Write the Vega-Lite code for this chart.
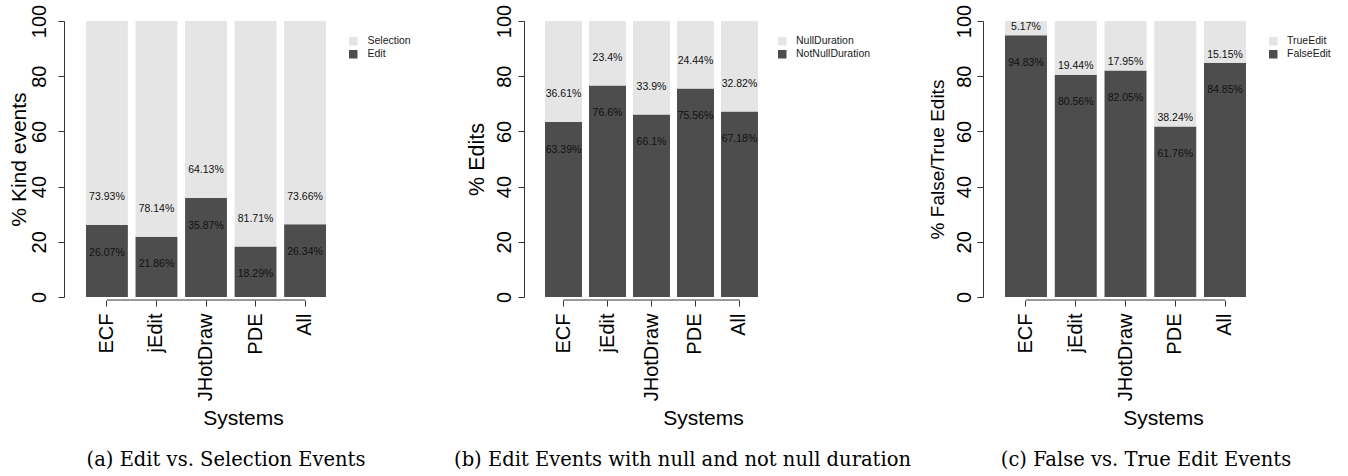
{
  "$schema": "https://vega.github.io/schema/vega-lite/v6.json",
  "background": "white",
  "padding": {"left": 8, "top": 4, "right": 5, "bottom": 0},
  "spacing": 10,
  "bounds": "flush",
  "resolve": {"scale": {"color": "independent"}, "legend": {"color": "independent"}},
  "hconcat": [
    {
      "width": 450,
      "height": 276,
      "data": {"values": [
        {"system": "ECF", "Edit": 26.07, "Selection": 73.93},
        {"system": "jEdit", "Edit": 21.86, "Selection": 78.14},
        {"system": "JHotDraw", "Edit": 35.87, "Selection": 64.13},
        {"system": "PDE", "Edit": 18.29, "Selection": 81.71},
        {"system": "All", "Edit": 26.34, "Selection": 73.66}
      ]},
      "title": {"text": "(a) Edit vs. Selection Events", "orient": "bottom", "anchor": "middle", "frame": "group", "dx": -63, "offset": 38, "baseline": "alphabetic"},
      "encoding": {
        "x": {"field": "system", "type": "nominal",
          "scale": {"domain": ["ECF", "jEdit", "JHotDraw", "PDE", "All"], "range": [22, 262], "paddingInner": 0.155, "paddingOuter": 0},
          "axis": {"title": "Systems", "offset": 3, "domain": false, "labelAngle": -90, "labelAlign": "right", "labelBaseline": "middle", "labelPadding": 7, "labelFontSize": 20, "titleFontSize": 21, "titleX": 179, "titleY": 124, "titleAlign": "center", "titleBaseline": "alphabetic", "titleAngle": 0, "labelOverlap": false}}
      },
      "layer": [
        {
          "transform": [{"fold": ["Edit", "Selection"], "as": ["kind", "value"]}],
          "mark": {"type": "bar"},
          "encoding": {
            "y": {"field": "value", "type": "quantitative", "stack": "zero", "title": "% Kind events",
              "scale": {"domain": [0, 100], "nice": false},
              "axis": {"values": [0, 20, 40, 60, 80, 100], "labelAngle": -90, "labelAlign": "center", "labelBaseline": "alphabetic", "labelPadding": 13, "labelFontSize": 20, "titleFontSize": 21, "titleAngle": -90, "titleX": -39, "titleY": 138, "titleAlign": "center", "titleBaseline": "alphabetic"}},
            "color": {"field": "kind", "type": "nominal",
              "scale": {"domain": ["Selection", "Edit"], "range": ["#e5e5e5", "#4d4d4d"]},
              "legend": {"title": null, "orient": "none", "legendX": 284, "legendY": 15, "symbolType": "square", "symbolSize": 72, "symbolStrokeWidth": 0, "labelFontSize": 10.5, "labelFont": "Liberation Sans", "labelOffset": 9, "rowPadding": 2, "padding": 0, "labelColor": "#1a1a1a"}},
            "order": {"field": "kind", "type": "ordinal", "sort": "ascending"}
          }
        },
        {
          "transform": [{"calculate": "datum.Edit + '%'", "as": "lab"}],
          "mark": {"type": "text", "dy": 27.6, "fontSize": 10.5, "color": "#111", "baseline": "middle"},
          "encoding": {"y": {"field": "Edit", "type": "quantitative", "title": "% Kind events"}, "text": {"field": "lab"}}
        },
        {
          "transform": [{"calculate": "datum.Selection + '%'", "as": "lab"}],
          "mark": {"type": "text", "dy": -27.6, "fontSize": 10.5, "color": "#111", "baseline": "middle"},
          "encoding": {"y": {"field": "Edit", "type": "quantitative", "title": "% Kind events"}, "text": {"field": "lab"}}
        },
        {
          "data": {"values": [{}]},
          "mark": {"type": "rule", "color": "#333", "strokeWidth": 1},
          "encoding": {"x": {"datum": "ECF", "type": "nominal"}, "x2": {"datum": "All"}, "y": {"datum": -1.087, "type": "quantitative"}}
        }
      ]
    },
    {
      "width": 449,
      "height": 276,
      "data": {"values": [
        {"system": "ECF", "NotNullDuration": 63.39, "NullDuration": 36.61},
        {"system": "jEdit", "NotNullDuration": 76.6, "NullDuration": 23.4},
        {"system": "JHotDraw", "NotNullDuration": 66.1, "NullDuration": 33.9},
        {"system": "PDE", "NotNullDuration": 75.56, "NullDuration": 24.44},
        {"system": "All", "NotNullDuration": 67.18, "NullDuration": 32.82}
      ]},
      "title": {"text": "(b) Edit Events with null and not null duration", "orient": "bottom", "anchor": "middle", "frame": "group", "dx": -66, "offset": 38, "baseline": "alphabetic"},
      "encoding": {
        "x": {"field": "system", "type": "nominal",
          "scale": {"domain": ["ECF", "jEdit", "JHotDraw", "PDE", "All"], "range": [21, 234], "paddingInner": 0.159, "paddingOuter": 0},
          "axis": {"title": "Systems", "offset": 3, "domain": false, "labelAngle": -90, "labelAlign": "right", "labelBaseline": "middle", "labelPadding": 7, "labelFontSize": 20, "titleFontSize": 21, "titleX": 179, "titleY": 124, "titleAlign": "center", "titleBaseline": "alphabetic", "titleAngle": 0, "labelOverlap": false}}
      },
      "layer": [
        {
          "transform": [{"fold": ["NotNullDuration", "NullDuration"], "as": ["kind", "value"]}],
          "mark": {"type": "bar"},
          "encoding": {
            "y": {"field": "value", "type": "quantitative", "stack": "zero", "title": "% Edits",
              "scale": {"domain": [0, 100], "nice": false},
              "axis": {"values": [0, 20, 40, 60, 80, 100], "labelAngle": -90, "labelAlign": "center", "labelBaseline": "alphabetic", "labelPadding": 8, "labelFontSize": 20, "titleFontSize": 21.5, "titleAngle": -90, "titleX": -41, "titleY": 138, "titleAlign": "center", "titleBaseline": "alphabetic"}},
            "color": {"field": "kind", "type": "nominal",
              "scale": {"domain": ["NullDuration", "NotNullDuration"], "range": ["#e5e5e5", "#4d4d4d"]},
              "legend": {"title": null, "orient": "none", "legendX": 253, "legendY": 15, "symbolType": "square", "symbolSize": 72, "symbolStrokeWidth": 0, "labelFontSize": 10.5, "labelFont": "Liberation Sans", "labelOffset": 8.5, "rowPadding": 2, "padding": 0, "labelColor": "#1a1a1a"}},
            "order": {"field": "kind", "type": "ordinal", "sort": "ascending"}
          }
        },
        {
          "transform": [{"calculate": "datum.NotNullDuration + '%'", "as": "lab"}],
          "mark": {"type": "text", "dy": 27.6, "fontSize": 10.5, "color": "#111", "baseline": "middle"},
          "encoding": {"y": {"field": "NotNullDuration", "type": "quantitative", "title": "% Edits"}, "text": {"field": "lab"}}
        },
        {
          "transform": [{"calculate": "datum.NullDuration + '%'", "as": "lab"}],
          "mark": {"type": "text", "dy": -27.6, "fontSize": 10.5, "color": "#111", "baseline": "middle"},
          "encoding": {"y": {"field": "NotNullDuration", "type": "quantitative", "title": "% Edits"}, "text": {"field": "lab"}}
        },
        {
          "data": {"values": [{}]},
          "mark": {"type": "rule", "color": "#333", "strokeWidth": 1},
          "encoding": {"x": {"datum": "ECF", "type": "nominal"}, "x2": {"datum": "All"}, "y": {"datum": -1.087, "type": "quantitative"}}
        }
      ]
    },
    {
      "width": 350,
      "height": 276,
      "data": {"values": [
        {"system": "ECF", "FalseEdit": 94.83, "TrueEdit": 5.17},
        {"system": "jEdit", "FalseEdit": 80.56, "TrueEdit": 19.44},
        {"system": "JHotDraw", "FalseEdit": 82.05, "TrueEdit": 17.95},
        {"system": "PDE", "FalseEdit": 61.76, "TrueEdit": 38.24},
        {"system": "All", "FalseEdit": 84.85, "TrueEdit": 15.15}
      ]},
      "title": {"text": "(c) False vs. True Edit Events", "orient": "bottom", "anchor": "middle", "frame": "group", "dx": -12, "offset": 38, "baseline": "alphabetic"},
      "encoding": {
        "x": {"field": "system", "type": "nominal",
          "scale": {"domain": ["ECF", "jEdit", "JHotDraw", "PDE", "All"], "range": [22, 263], "paddingInner": 0.156, "paddingOuter": 0},
          "axis": {"title": "Systems", "offset": 3, "domain": false, "labelAngle": -90, "labelAlign": "right", "labelBaseline": "middle", "labelPadding": 7, "labelFontSize": 20, "titleFontSize": 21, "titleX": 180, "titleY": 124, "titleAlign": "center", "titleBaseline": "alphabetic", "titleAngle": 0, "labelOverlap": false}}
      },
      "layer": [
        {
          "transform": [{"fold": ["FalseEdit", "TrueEdit"], "as": ["kind", "value"]}],
          "mark": {"type": "bar"},
          "encoding": {
            "y": {"field": "value", "type": "quantitative", "stack": "zero", "title": "% False/True Edits",
              "scale": {"domain": [0, 100], "nice": false},
              "axis": {"values": [0, 20, 40, 60, 80, 100], "labelAngle": -90, "labelAlign": "center", "labelBaseline": "alphabetic", "labelPadding": 7, "labelFontSize": 20, "titleFontSize": 19, "titleAngle": -90, "titleX": -40, "titleY": 138, "titleAlign": "center", "titleBaseline": "alphabetic"}},
            "color": {"field": "kind", "type": "nominal",
              "scale": {"domain": ["TrueEdit", "FalseEdit"], "range": ["#e5e5e5", "#4d4d4d"]},
              "legend": {"title": null, "orient": "none", "legendX": 285, "legendY": 15, "symbolType": "square", "symbolSize": 72, "symbolStrokeWidth": 0, "labelFontSize": 10.5, "labelFont": "Liberation Sans", "labelOffset": 8.5, "rowPadding": 2, "padding": 0, "labelColor": "#1a1a1a"}},
            "order": {"field": "kind", "type": "ordinal", "sort": "ascending"}
          }
        },
        {
          "transform": [{"calculate": "datum.FalseEdit + '%'", "as": "lab"}],
          "mark": {"type": "text", "dy": 27.6, "fontSize": 10.5, "color": "#111", "baseline": "middle"},
          "encoding": {"y": {"field": "FalseEdit", "type": "quantitative", "title": "% False/True Edits"}, "text": {"field": "lab"}}
        },
        {
          "transform": [{"calculate": "datum.TrueEdit + '%'", "as": "lab"}],
          "mark": {"type": "text", "dy": -8.3, "fontSize": 10.5, "color": "#111", "baseline": "middle"},
          "encoding": {"y": {"field": "FalseEdit", "type": "quantitative", "title": "% False/True Edits"}, "text": {"field": "lab"}}
        },
        {
          "data": {"values": [{}]},
          "mark": {"type": "rule", "color": "#333", "strokeWidth": 1},
          "encoding": {"x": {"datum": "ECF", "type": "nominal"}, "x2": {"datum": "All"}, "y": {"datum": -1.087, "type": "quantitative"}}
        }
      ]
    }
  ],
  "config": {
    "view": {"stroke": null},
    "font": "Liberation Sans",
    "axis": {"grid": false, "domainColor": "#333", "tickColor": "#333", "labelColor": "#000", "titleColor": "#000", "labelFont": "Liberation Sans", "titleFont": "Liberation Sans", "titleFontWeight": "normal", "tickSize": 6, "domainWidth": 1, "tickWidth": 1},
    "title": {"font": "DejaVu Serif", "fontSize": 19.5, "fontWeight": "normal", "color": "#000"},
    "text": {"font": "Liberation Sans"}
  }
}
